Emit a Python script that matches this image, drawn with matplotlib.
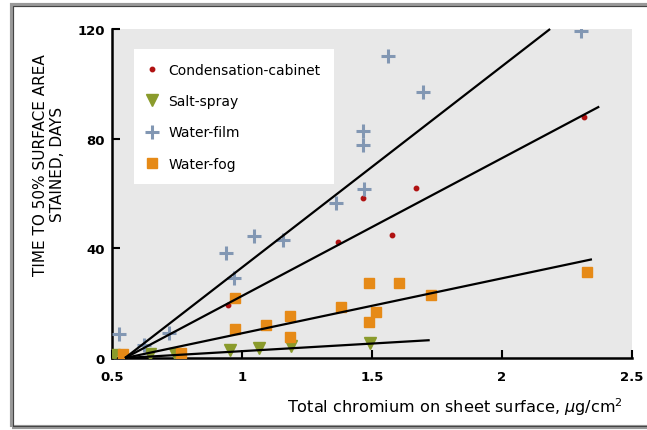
import matplotlib
matplotlib.use("Agg")
import matplotlib.pyplot as plt
from matplotlib.patches import Rectangle

# ---- data ----
film_x = [0.527, 0.622, 0.721, 0.938, 0.969, 1.046, 1.159, 1.363, 1.468, 1.464, 1.464, 1.561, 1.697, 2.305]
film_y = [8.7, 4.8, 9.1, 38.2, 29.1, 44.5, 42.9, 56.5, 61.7, 77.6, 82.7, 110.3, 97.2, 119.3]

cond_x = [0.947, 1.369, 1.464, 1.576, 1.668, 2.314]
cond_y = [19.4, 42.3, 58.3, 44.8, 62.1, 88.0]

salt_x = [0.508, 0.648, 0.743, 0.953, 1.064, 1.188, 1.494]
salt_y = [1.1, 1.3, 1.3, 3.0, 3.6, 4.5, 5.3]

fog_x = [0.542, 0.764, 0.974, 0.974, 1.093, 1.184, 1.184, 1.382, 1.487, 1.490, 1.515, 1.604, 1.726, 2.328]
fog_y = [1.5, 2.0, 21.8, 10.5, 12.0, 15.4, 7.8, 18.7, 27.2, 13.0, 16.8, 27.2, 22.8, 31.2]

# fitted lines (start, end)
film_fit_x = [0.55, 2.185]
film_fit_y = [0.0, 120.0]
cond_fit_x = [0.55, 2.374]
cond_fit_y = [0.0, 91.7]
fog_fit_x = [0.55, 2.346]
fog_fit_y = [0.0, 36.0]
salt_fit_x = [0.55, 1.722]
salt_fit_y = [0.0, 6.5]

x_ticks = [0.5, 1, 1.5, 2, 2.5]
x_tick_labels = ["0.5", "1", "1.5", "2", "2.5"]
y_ticks = [0, 40, 80, 120]
y_tick_labels = ["0", "40", "80", "120"]

# ---- plot ----
plt.rcParams['font.family'] = ['DejaVu Sans']
fig = plt.figure(figsize=(6.47, 4.31), dpi=100)
ax = fig.add_axes([112/647, 1-359/431, 520/647, 329/431])
ax.set_facecolor('#e8e8e8')

c_cond = '#b01212'
c_salt = '#8a9b2c'
c_film = '#8297b3'
c_fog = '#e68a17'

ax.plot(cond_x, cond_y, 'o', color=c_cond, ms=3.2, ls='none', label='Condensation-cabinet', zorder=3)
ax.plot(salt_x, salt_y, 'v', color=c_salt, ms=8.5, ls='none', label='Salt-spray', zorder=3)
ax.plot(film_x, film_y, '+', color=c_film, ms=10, mew=2.2, ls='none', label='Water-film', zorder=3)
ax.plot(fog_x, fog_y, 's', color=c_fog, ms=7, ls='none', label='Water-fog', zorder=3)

for fx, fy in [(film_fit_x, film_fit_y), (cond_fit_x, cond_fit_y),
               (fog_fit_x, fog_fit_y), (salt_fit_x, salt_fit_y)]:
    ax.plot(fx, fy, color='black', lw=1.6, zorder=4, solid_capstyle='butt', clip_on=False)

ax.set_xlim(0.5, 2.48)
ax.set_ylim(0, 120)
ax.set_xticks(x_ticks)
ax.set_xticklabels(x_tick_labels)
ax.set_yticks(y_ticks)
ax.set_yticklabels(y_tick_labels)
for lab in ax.get_xticklabels() + ax.get_yticklabels():
    lab.set_fontweight('bold')
    lab.set_fontsize(9.5)
ax.tick_params(direction='in', length=6, width=1.5)
ax.tick_params(axis='y', pad=5)
ax.tick_params(axis='x', pad=8.5)
for s in ['top', 'right']:
    ax.spines[s].set_visible(False)
for s in ['left', 'bottom']:
    ax.spines[s].set_linewidth(1.8)

ax.set_ylabel('TIME TO 50% SURFACE AREA\nSTAINED, DAYS', fontsize=11, linespacing=1.2)
ax.yaxis.set_label_coords(-0.09, 0.59)
ax.set_xlabel('Total chromium on sheet surface, $\\mu$g/cm$^2$', fontsize=11.6, ha='right', va='center')
ax.xaxis.set_label_coords(0.983, -0.146)

leg = ax.legend(loc='upper left', bbox_to_anchor=(0.042, 0.939), fontsize=10,
                frameon=True, fancybox=False, framealpha=1, edgecolor='none',
                handlelength=0.6, handletextpad=0.92, labelspacing=1.25, borderpad=0.98,
                borderaxespad=0)
leg.get_frame().set_facecolor('white')

fig.patches.append(Rectangle((12/647, 3/431), 1.0, 422/431, transform=fig.transFigure,
                             fill=False, edgecolor='#999999', lw=3))
fig.patches.append(Rectangle((13/647, 4/431), 1.0, 420/431, transform=fig.transFigure,
                             fill=False, edgecolor='#444444', lw=0.8))

fig.savefig('out.png', dpi=100)
